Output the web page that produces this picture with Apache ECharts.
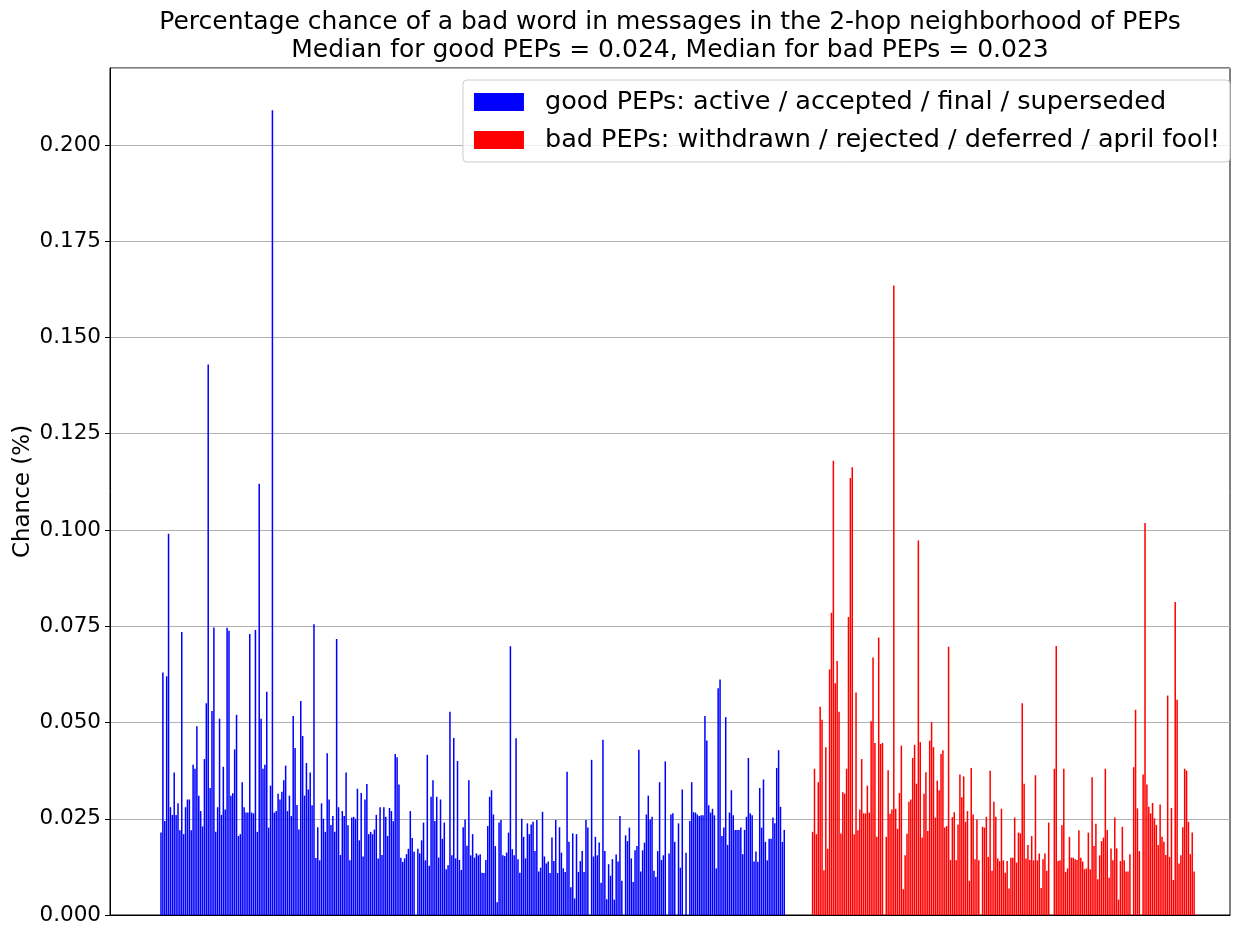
<!DOCTYPE html>
<html>
<head>
<meta charset="utf-8">
<script src="https://cdn.jsdelivr.net/npm/echarts@6/dist/echarts.min.js"></script>
<style>
html,body{margin:0;padding:0;background:#fff;}
#chart{width:1239px;height:926px;}
</style>
</head>
<body>
<div id="chart"></div>
<script>
// ---- Data ----
const titleLines = [
  'Percentage chance of a bad word in messages in the 2-hop neighborhood of PEPs',
  'Median for good PEPs = 0.024, Median for bad PEPs = 0.023'
];
const yAxisName = 'Chance (%)';
const seriesNames = [
  'good PEPs: active / accepted / final / superseded',
  'bad PEPs: withdrawn / rejected / deferred / april fool!'
];
const yTickValues = [0, 0.025, 0.05, 0.075, 0.1, 0.125, 0.15, 0.175, 0.2];

const goodValues = [
  0.0214, 0.063, 0.0244, 0.062, 0.099, 0.028, 0.026, 0.037, 0.026, 0.029, 0.022, 0.0735, 0.021, 0.028, 0.030, 0.030, 0.022, 0.039, 0.038, 0.049, 0.031, 0.027, 0.023, 0.0405, 0.055, 0.143, 0.033, 0.053, 0.0747, 0.0216, 0.028, 0.051, 0.026, 0.0385, 0.0274, 0.0746, 0.0738, 0.031, 0.0316, 0.043, 0.052, 0.0205, 0.021, 0.0345, 0.028, 0.0266, 0.0266, 0.073, 0.0266, 0.0264, 0.074, 0.0216, 0.112, 0.051,
  0.038, 0.039, 0.058, 0.0227, 0.0336, 0.209, 0.0266, 0.027, 0.0315, 0.030, 0.032, 0.035, 0.0388, 0.027, 0.031, 0.0257, 0.0517, 0.0434, 0.0286, 0.0222, 0.0556, 0.0465, 0.031, 0.0395, 0.0326, 0.037, 0.0285, 0.0755, 0.0148, 0.0228, 0.0142, 0.029, 0.025, 0.0216, 0.042, 0.030, 0.0234, 0.0257, 0.0216, 0.0717, 0.028, 0.0156, 0.027, 0.0257, 0.037, 0.0233, 0.0142, 0.0253, 0.0255, 0.025, 0.0328, 0.0194, 0.0317, 0.0152, 0.030, 0.034,
  0.021, 0.0216, 0.021, 0.0222, 0.026, 0.0147, 0.028, 0.0156, 0.028, 0.0255, 0.0205, 0.0278, 0.027, 0.0244, 0.0418, 0.041, 0.0339, 0.0149, 0.0138, 0.0147, 0.0158, 0.0172, 0.027, 0.020, 0.0164, 0, 0.0172, 0.016, 0.0194, 0.024, 0.0142, 0.0416, 0.0128, 0.0307, 0.035, 0.0244, 0.0307, 0.0149, 0.030, 0.0198, 0.024, 0.0119, 0.0129, 0.0528, 0.0155, 0.046, 0.0147, 0.040, 0.0143, 0.0117, 0.0228, 0.0248, 0.018, 0.035, 0.0155, 0.021,
  0.0149, 0.016, 0.0155, 0.0158, 0.011, 0.0109, 0.0143, 0.0231, 0.0307, 0.0324, 0.0261, 0.0179, 0.0033, 0.024, 0.0247, 0.0155, 0.0153, 0.0162, 0.0214, 0.0698, 0.0171, 0.0155, 0.0459, 0.0145, 0.011, 0.025, 0.0203, 0.0147, 0.0238, 0.021, 0.0235, 0.0242, 0.0166, 0.0247, 0.0113, 0.0123, 0.0268, 0.0152, 0.0134, 0.0139, 0.0109, 0.0201, 0.014, 0.0247, 0.0109, 0.0228, 0.0162, 0.0121, 0.0112, 0.0372, 0.019, 0.0072, 0.0212, 0.0043, 0.021,
  0.0112, 0.014, 0.0166, 0.0112, 0.0247, 0.0227, 0, 0.0403, 0.0152, 0.0203, 0.0155, 0.0188, 0.0084, 0.0455, 0.0166, 0.0041, 0.0132, 0.0102, 0.0145, 0.004, 0.0157, 0.0139, 0.0257, 0.0089, 0, 0.0207, 0.0192, 0.0227, 0.0147, 0.0086, 0.0168, 0.0179, 0.0429, 0.0113, 0.0168, 0.0188, 0.0261, 0.031, 0.0248, 0.0255, 0.0115, 0.0099, 0.0166, 0.0345, 0.0143, 0.0155, 0.0399, 0, 0.016, 0.0261, 0.0264, 0.019, 0, 0.0238, 0.0123, 0.0326,
  0, 0.0162, 0, 0.0244, 0.0345, 0.0267, 0.0266, 0.0261, 0.0257, 0.0259, 0.0259, 0.0517, 0.0453, 0.0285, 0.0266, 0.0276, 0.0259, 0.0121, 0.0589, 0.0612, 0.0205, 0.0227, 0.0514, 0.0182, 0.0266, 0.0324, 0.0259, 0.0221, 0.0221, 0.0221, 0.0227, 0.0158, 0.0221, 0.0255, 0.0408, 0.0264, 0.0259, 0.0139, 0.0165, 0.0138, 0.033, 0.0227, 0.0352, 0.019, 0.0142, 0.0198, 0.0198, 0.0253, 0.0238, 0.0382, 0.0428, 0.0281, 0.019, 0.0221
];

const badValues = [
  0.0216, 0.038, 0.021, 0.0345, 0.0541, 0.0507, 0.0116, 0.0436, 0.0172, 0.0638, 0.0785, 0.118, 0.0602, 0.066, 0.0528, 0.0212, 0.0319, 0.0315, 0.038, 0.0774, 0.1135, 0.1163, 0.021, 0.0578, 0.022, 0.0274, 0.0405, 0.0264, 0.0264, 0.0336, 0.0266, 0.0503, 0.0669, 0.0447, 0.0203, 0.0721, 0.0444, 0.0447, 0, 0.0203, 0.0376, 0.0263, 0.0274, 0.1635, 0.0276, 0.0224, 0.0317, 0.044, 0.0067, 0.0155, 0.0211,
  0.0294, 0.030, 0.0408, 0.0442, 0.0341, 0.0973, 0.0449, 0.0201, 0.0315, 0.0371, 0.0218, 0.0453, 0.0501, 0.0436, 0.0253, 0.0349, 0.0324, 0.0418, 0.0428, 0.0227, 0.0231, 0.0697, 0.0143, 0.0254, 0.0267, 0.0142, 0.0235, 0.0365, 0.0306, 0.036, 0.0242, 0.027, 0.0089, 0.0382, 0.0261, 0.0145, 0.0248, 0.0142, 0, 0.0229, 0.0227, 0.0255, 0.0151, 0.0375, 0.0115, 0.0294, 0.0255, 0.0147, 0.014, 0.0276, 0.0142,
  0.011, 0.014, 0.0069, 0.0149, 0.0149, 0.0253, 0.0136, 0.0214, 0.0212, 0.055, 0.0341, 0.0147, 0.0182, 0.0143, 0.0205, 0.0142, 0.0363, 0.0142, 0.016, 0.007, 0.0145, 0.016, 0.0115, 0.024, 0, 0, 0.038, 0.0699, 0.014, 0.0142, 0.0233, 0.038, 0.0112, 0.0121, 0.0203, 0.0149, 0.0149, 0.0145, 0.0143, 0.022, 0.0149, 0.0139, 0.0119, 0.0121, 0.0214, 0.0119, 0.0358, 0.0179, 0.0237, 0.0093, 0.0155,
  0.0192, 0.0201, 0.038, 0.0221, 0.0097, 0.0173, 0.0142, 0.0253, 0.0173, 0.004, 0.014, 0.0229, 0.0142, 0.0113, 0.0113, 0.0158, 0, 0.0384, 0.0533, 0.0277, 0.0166, 0, 0.0365, 0.1018, 0.0339, 0.0281, 0.0264, 0.0291, 0.0251, 0.0234, 0.0182, 0.0287, 0.0203, 0.019, 0.0156, 0.057, 0.0151, 0.0278, 0.0091, 0.0813, 0.0559, 0.0134, 0.0155, 0.0228, 0.038, 0.0375, 0.0242, 0.0158, 0.0214, 0.0113
];

// number of empty bar slots between the two groups
const GAP_SLOTS = 14;

// ---- Build ----
const goodData = goodValues.map((v, i) => [i, v]);
const badStart = goodValues.length + GAP_SLOTS;
const badData = badValues.map((v, j) => [badStart + j, v]);
const lastIdx = badStart + badValues.length - 1;
// axis padding (in bar slots) before first / after last bar
const xMin = -27;
const xMax = lastIdx + 19;

const FONT = 'DejaVu Sans';
const chart = echarts.init(document.getElementById('chart'), null, {renderer: 'canvas'});
const gridLeft = 110, gridRight = 9, gridTop = 68, gridBottom = 8;
const axesCenter = gridLeft + (1239 - gridLeft - gridRight) / 2;

chart.setOption({
  animation: false,
  backgroundColor: '#ffffff',
  textStyle: {fontFamily: FONT},
  graphic: [
    {type: 'text', x: axesCenter, y: 22, style: {text: titleLines[0], fontFamily: FONT, fontSize: 25, fill: '#000', align: 'center', verticalAlign: 'middle'}},
    {type: 'text', x: axesCenter, y: 50, style: {text: titleLines[1], fontFamily: FONT, fontSize: 25, fill: '#000', align: 'center', verticalAlign: 'middle'}}
  ],
  grid: {left: gridLeft, right: gridRight, top: gridTop, bottom: gridBottom, show: true, borderColor: '#000', borderWidth: 1, containLabel: false},
  legend: {
    orient: 'vertical', right: 9, top: 80,
    padding: [9, 10, 9, 11],
    itemWidth: 50, itemHeight: 18, itemGap: 12,
    backgroundColor: 'rgba(255,255,255,0.8)', borderColor: '#cccccc', borderWidth: 1, borderRadius: 4,
    textStyle: {fontFamily: FONT, fontSize: 25.5, color: '#000', padding: [0, 0, 0, 16]},
    icon: 'rect',
    data: seriesNames
  },
  xAxis: {
    type: 'value', min: xMin, max: xMax,
    axisLine: {show: true, onZero: false, lineStyle: {color: '#000', width: 1}},
    axisTick: {show: false}, axisLabel: {show: false}, splitLine: {show: false}
  },
  yAxis: {
    type: 'value', min: 0, max: 0.22, interval: 0.025,
    name: yAxisName, nameLocation: 'middle', nameGap: 75, nameRotate: 90,
    nameMoveOverlap: false,
    nameTextStyle: {fontFamily: FONT, fontSize: 23, color: '#000'},
    axisLine: {show: true, onZero: false, lineStyle: {color: '#000', width: 1}},
    axisTick: {show: true, inside: false, length: 5, lineStyle: {color: '#000'}},
    axisLabel: {
      fontFamily: FONT, fontSize: 21.5, color: '#000', margin: 9,
      showMaxLabel: false,
      formatter: v => yTickValues.some(t => Math.abs(t - v) < 1e-9) ? v.toFixed(3) : ''
    },
    splitLine: {show: true, lineStyle: {color: '#b0b0b0', width: 1}}
  },
  series: [
    {name: seriesNames[0], type: 'bar', data: goodData, barWidth: '80%', barGap: '-100%', itemStyle: {color: '#0000ff'}},
    {name: seriesNames[1], type: 'bar', data: badData, barWidth: '80%', barGap: '-100%', itemStyle: {color: '#ff0000'}}
  ]
});
</script>
</body>
</html>
